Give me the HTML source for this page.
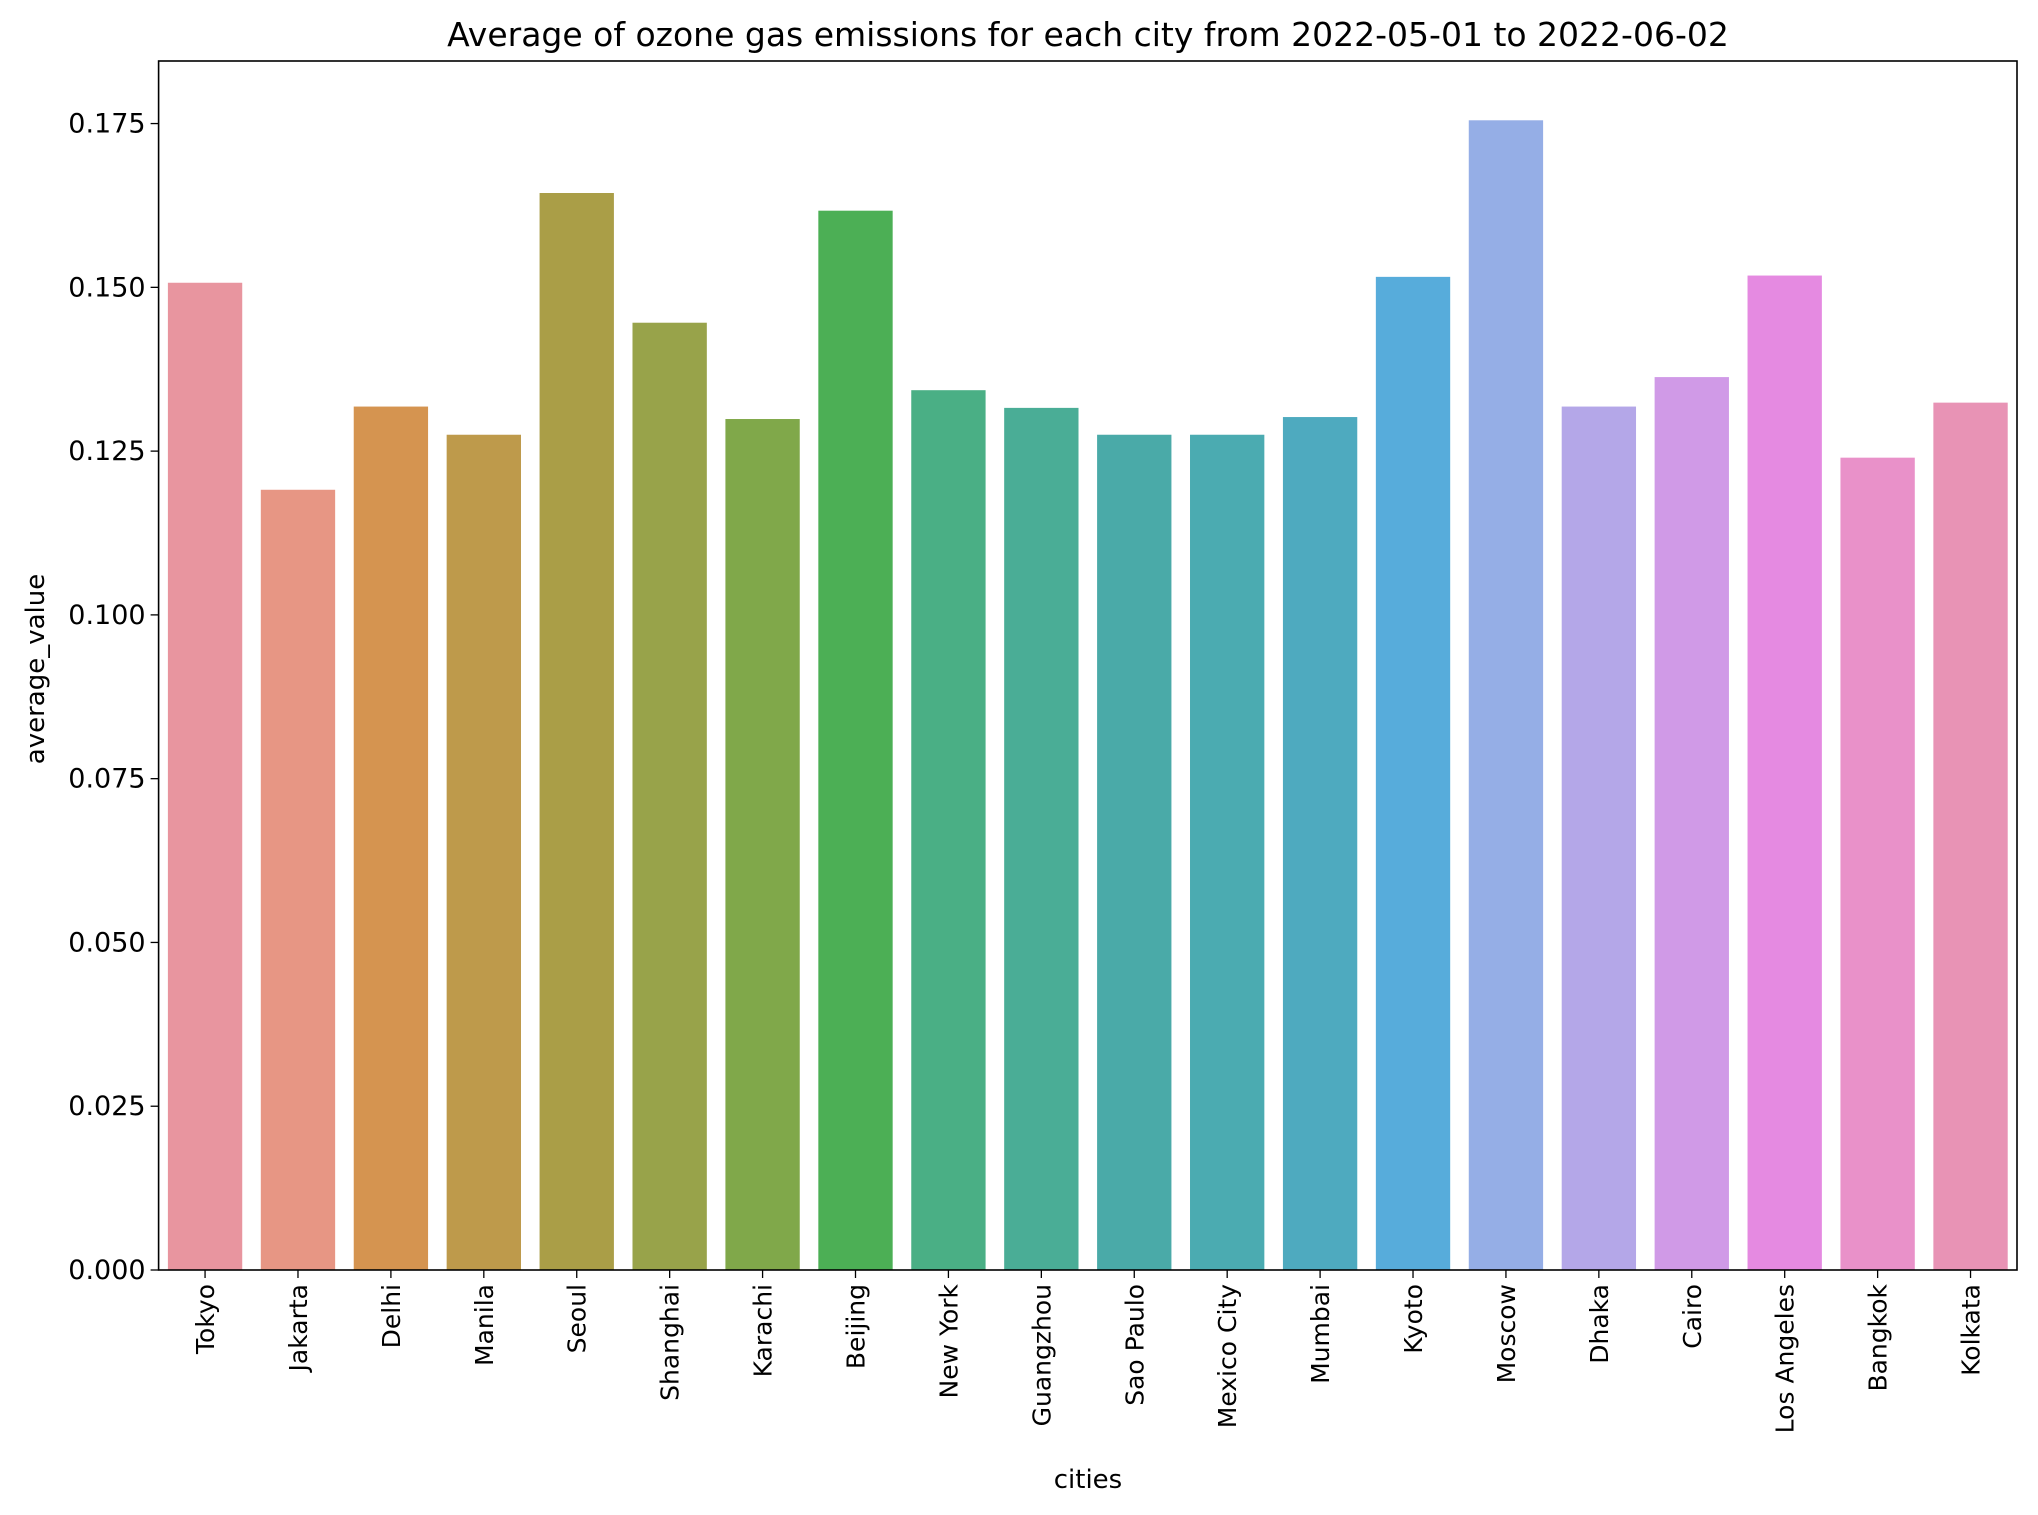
<!DOCTYPE html>
<html><head><meta charset="utf-8"><style>
body{margin:0;background:#fff}
svg{display:block;font-family:"DejaVu Sans","Liberation Sans",sans-serif}
</style></head><body>
<svg id="chart" width="2038" height="1515" xmlns="http://www.w3.org/2000/svg">
<rect width="2038" height="1515" fill="#fff"/>
<text x="1088" y="46" font-size="33" text-anchor="middle">Average of ozone gas emissions for each city from 2022-05-01 to 2022-06-02</text>
<text x="1088" y="1488" font-size="26" text-anchor="middle">cities</text>
<text transform="translate(44,669) rotate(-90)" font-size="26" text-anchor="middle">average_value</text>
<g id="bars"></g><g id="ticks"></g>
<rect x="158.6" y="61" width="1858.4" height="1209" fill="none" stroke="#000" stroke-width="1.6"/>
</svg>
<script>
const categories=["Tokyo","Jakarta","Delhi","Manila","Seoul","Shanghai","Karachi","Beijing","New York","Guangzhou","Sao Paulo","Mexico City","Mumbai","Kyoto","Moscow","Dhaka","Cairo","Los Angeles","Bangkok","Kolkata"];
const values=[0.1507,0.1191,0.1318,0.1275,0.1644,0.1446,0.1299,0.1617,0.1343,0.1316,0.1275,0.1275,0.1302,0.1516,0.1755,0.1318,0.1363,0.1518,0.1240,0.1324];
const colors=["#e8959f","#e79684","#d59450","#be9a4b","#aa9e47","#98a34a","#80a84a","#4caf55","#4aaf85","#4aad96","#4aaaa8","#4babb1","#4eaabf","#57acdb","#95aee6","#b4a7e8","#d09ae7","#e58ae1","#e991c9","#e893b5"];
const yTicks=[0,0.025,0.05,0.075,0.1,0.125,0.15,0.175];
const yTickLabels=["0.000","0.025","0.050","0.075","0.100","0.125","0.150","0.175"];
const L=158.6,R=2017,T=61,B=1270,ymax=0.18455;
const NS="http://www.w3.org/2000/svg";
const band=(R-L)/categories.length;
const x=i=>L+band*i;
const y=v=>B-(v/ymax)*(B-T);
const bars=document.getElementById('bars'),ticks=document.getElementById('ticks');
function mk(t,a,p){const e=document.createElementNS(NS,t);for(const k in a)e.setAttribute(k,a[k]);p.appendChild(e);return e;}
values.forEach((v,i)=>{
 const r=mk('rect',{x:x(i)+band*0.1,y:y(v),width:band*0.8,height:B-y(v),fill:colors[i]},bars);
 
 
 const cx=x(i)+band/2;
 const tk=mk('line',{x1:cx,x2:cx,y1:B,y2:B+8,stroke:'#000','stroke-width':1.3},ticks);
 
 
 const t=mk('text',{transform:`translate(${cx+9},${B+14}) rotate(-90)`,'font-size':25,'text-anchor':'end'},ticks);
 t.textContent=categories[i];
 
 
});
yTicks.forEach((v,i)=>{
 const yy=y(v);
 const tk=mk('line',{x1:L-8,x2:L,y1:yy,y2:yy,stroke:'#000','stroke-width':1.3},ticks);
 
 
 const t=mk('text',{x:L-13,y:yy+9,'font-size':27,'text-anchor':'end'},ticks);
 t.textContent=yTickLabels[i];
 
 
});
</script>
</body></html>
